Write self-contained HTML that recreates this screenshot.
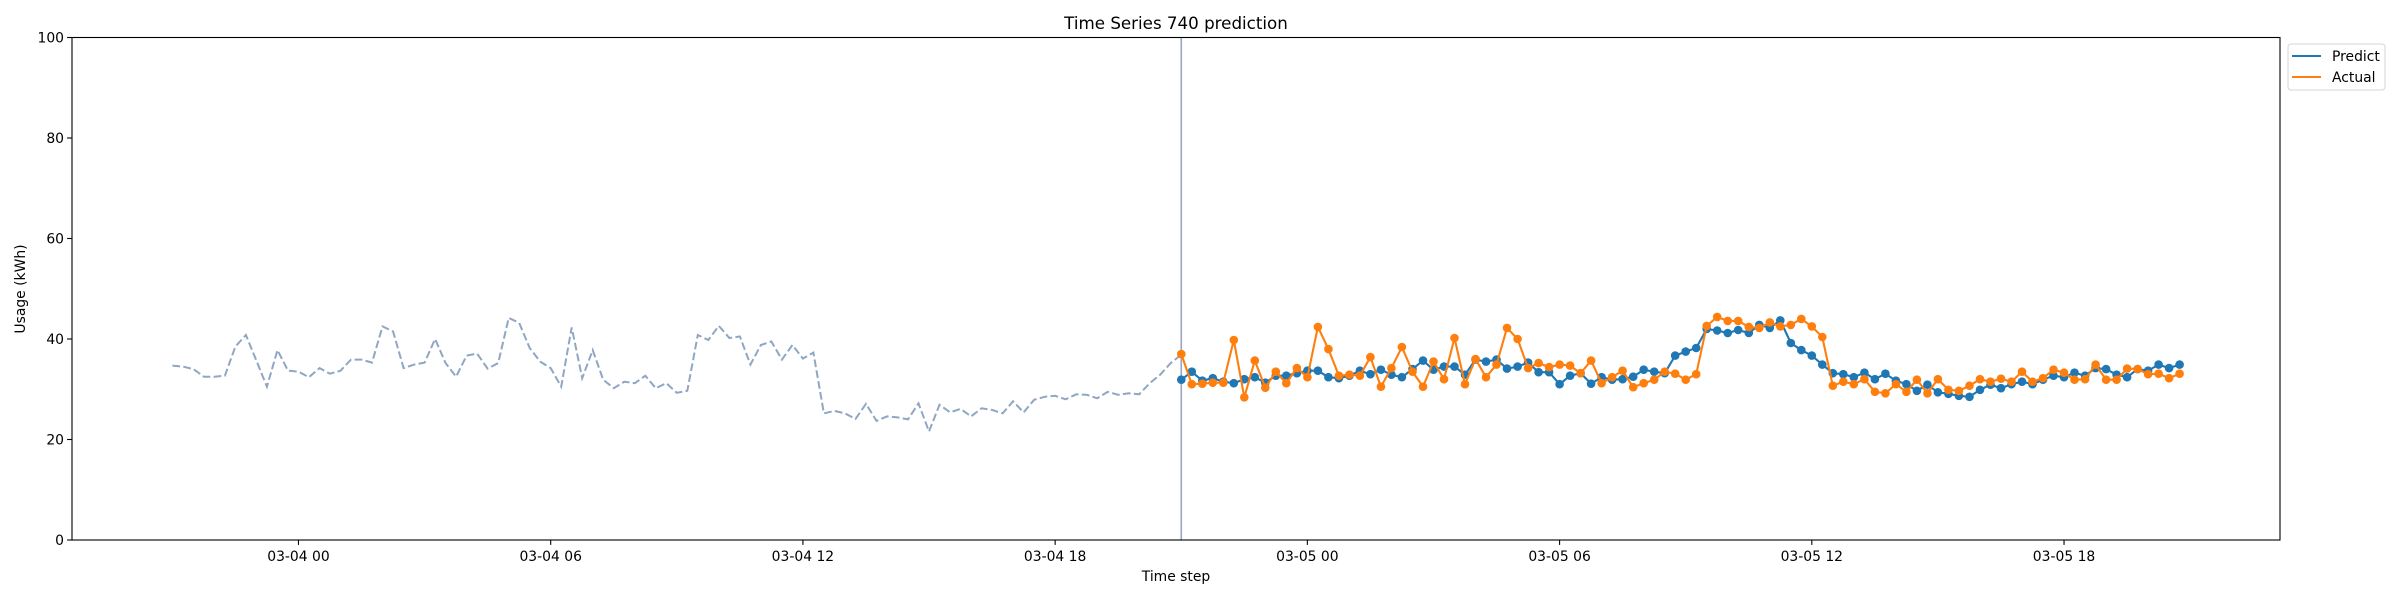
<!DOCTYPE html>
<html><head><meta charset="utf-8"><style>
html,body{margin:0;padding:0;background:#fff;}
svg{display:block;font-family:"DejaVu Sans","Liberation Sans",sans-serif;}
</style></head><body>
<svg id="chart" width="2400" height="600" viewBox="0 0 2400 600" xmlns="http://www.w3.org/2000/svg">
<rect x="0" y="0" width="2400" height="600" fill="#fff"/>
<text x="1176" y="29" font-size="16.7" text-anchor="middle" fill="#000">Time Series 740 prediction</text>
<text x="1176" y="581" font-size="13.9" text-anchor="middle" fill="#000">Time step</text>
<text transform="translate(25,289) rotate(-90)" font-size="13.9" text-anchor="middle" fill="#000">Usage (kWh)</text>
<g id="marks"></g>
<rect x="72" y="37.5" width="2208" height="502.5" fill="none" stroke="#000" stroke-width="1.1"/>
<g id="axes"></g>
<g>
<rect x="2288" y="44" width="97" height="46" rx="3" fill="#fff" stroke="#d6d6d6" stroke-width="1"/>
<line x1="2292" y1="56" x2="2321" y2="56" stroke="#1f77b4" stroke-width="2"/>
<text x="2332" y="61" font-size="13.9" fill="#000">Predict</text>
<line x1="2292" y1="77" x2="2321" y2="77" stroke="#ff7f0e" stroke-width="2"/>
<text x="2332" y="82" font-size="13.9" fill="#000">Actual</text>
</g>
</svg>
<script>
const histValues=[34.7,34.5,34.0,32.5,32.5,32.7,38.5,40.8,35.7,30.5,37.8,33.7,33.5,32.4,34.2,33.1,33.7,35.9,35.9,35.3,42.5,41.5,34.2,34.9,35.3,40.0,35.2,32.5,36.7,37.1,34.1,35.2,44.2,43.2,38.2,35.5,34.2,30.5,42.3,32.2,37.8,31.9,30.2,31.5,31.2,32.7,30.2,31.2,29.3,29.7,40.8,39.8,42.6,40.2,40.5,34.9,38.8,39.5,35.9,38.8,36.1,37.3,25.2,25.7,25.2,24.1,27.1,23.7,24.6,24.4,24.0,27.2,21.6,26.9,25.4,26.1,24.6,26.2,25.9,25.2,27.6,25.4,27.9,28.5,28.7,28.0,29.0,28.9,28.2,29.5,28.9,29.2,29.0,31.2,32.9,35.2,36.9];
const predValues=[31.9,33.5,31.7,32.2,31.5,31.2,32.0,32.4,31.3,32.7,32.7,33.2,33.7,33.7,32.4,32.2,32.7,33.7,33.0,33.9,32.9,32.4,34.0,35.7,33.9,34.5,34.5,32.9,35.9,35.5,35.9,34.1,34.5,35.3,33.4,33.4,31.0,32.7,33.2,31.1,32.4,31.9,32.0,32.5,33.9,33.5,33.2,36.7,37.5,38.2,42.0,41.7,41.2,41.8,41.2,42.8,42.2,43.7,39.2,37.8,36.7,34.9,33.2,33.0,32.4,33.3,32.0,33.1,31.7,31.0,29.7,30.9,29.4,29.1,28.7,28.5,29.9,30.9,30.2,31.0,31.5,31.0,31.9,32.7,32.4,33.3,32.7,34.2,34.0,32.9,32.4,34.0,33.7,34.9,34.2,34.9];
const actualValues=[37.0,31.0,31.1,31.3,31.3,39.8,28.4,35.7,30.3,33.5,31.2,34.2,32.4,42.4,38.0,32.7,32.9,32.7,36.4,30.5,34.2,38.4,33.5,30.5,35.5,32.0,40.2,31.0,36.0,32.4,34.9,42.2,40.0,34.2,35.2,34.4,34.9,34.7,33.2,35.7,31.2,32.4,33.7,30.4,31.2,31.9,33.5,33.1,31.9,33.0,42.6,44.4,43.6,43.6,42.4,42.2,43.3,42.5,42.8,44.0,42.5,40.4,30.7,31.5,31.0,32.0,29.5,29.2,31.0,29.5,31.9,29.2,32.0,29.9,29.7,30.7,32.0,31.5,32.1,31.5,33.5,31.5,32.2,33.9,33.3,31.9,32.0,34.9,31.9,31.9,34.1,34.0,33.0,33.1,32.2,33.1];
const xTickLabels=["03-04 00","03-04 06","03-04 12","03-04 18","03-05 00","03-05 06","03-05 12","03-05 18"];
const xTickHours=[0,6,12,18,24,30,36,42];
const yTicks=[0,20,40,60,80,100];
const histStartHour=-3, predStartHour=21, stepHours=0.25;

const NS="http://www.w3.org/2000/svg";
const L=72,R=2280,T=37.5,B=540;
const xMin=-5.3875,xMax=47.1375;
function xs(h){return L+(h-xMin)/(xMax-xMin)*(R-L);}
function ys(v){return B-(v-0)/(100-0)*(B-T);}
function mk(tag,attrs,parent){const e=document.createElementNS(NS,tag);for(const k in attrs)e.setAttribute(k,attrs[k]);parent.appendChild(e);return e;}
const marks=document.getElementById('marks'), axes=document.getElementById('axes');

// history
const hp=histValues.map((v,i)=>xs(histStartHour+i*stepHours).toFixed(1)+','+ys(v).toFixed(1)).join(' ');
const hl=mk('polyline',{points:hp,fill:'none',stroke:'#8fa6c4',"stroke-width":2,"stroke-dasharray":"7.7,3.3"},marks);


// split line
const vx=xs(predStartHour);
const vl=mk('line',{x1:vx,y1:T,x2:vx,y2:B,stroke:'#9aa6c9',"stroke-width":1.6},marks);



function series(vals,color,name){
  const g=mk('g',{},marks);
  
  
  const pts=vals.map((v,i)=>xs(predStartHour+i*stepHours).toFixed(1)+','+ys(v).toFixed(1)).join(' ');
  const pl=mk('polyline',{points:pts,fill:'none',stroke:color,"stroke-width":2.1},g);
  
  
  vals.forEach((v,i)=>{
    const c=mk('circle',{cx:xs(predStartHour+i*stepHours).toFixed(1),cy:ys(v).toFixed(1),r:4.3,fill:color},g);
    
    
  });
}
series(predValues,'#1f77b4','predict');
series(actualValues,'#ff7f0e','actual');

// y ticks
yTicks.forEach(v=>{
  const y=ys(v);
  const tk=mk('line',{x1:L-4.9,y1:y,x2:L,y2:y,stroke:'#000',"stroke-width":1.1},axes);
  
  
  const t=mk('text',{x:L-8,y:y+5,"font-size":13.9,"text-anchor":"end",fill:'#000'},axes);
  t.textContent=String(v);
  
  
});
// x ticks
xTickLabels.forEach((lab,i)=>{
  const x=xs(xTickHours[i]);
  const tk=mk('line',{x1:x,y1:B,x2:x,y2:B+4.9,stroke:'#000',"stroke-width":1.1},axes);
  
  
  const t=mk('text',{x:x,y:B+21,"font-size":13.9,"text-anchor":"middle",fill:'#000'},axes);
  t.textContent=lab;
  
  
});
</script>
</body></html>
